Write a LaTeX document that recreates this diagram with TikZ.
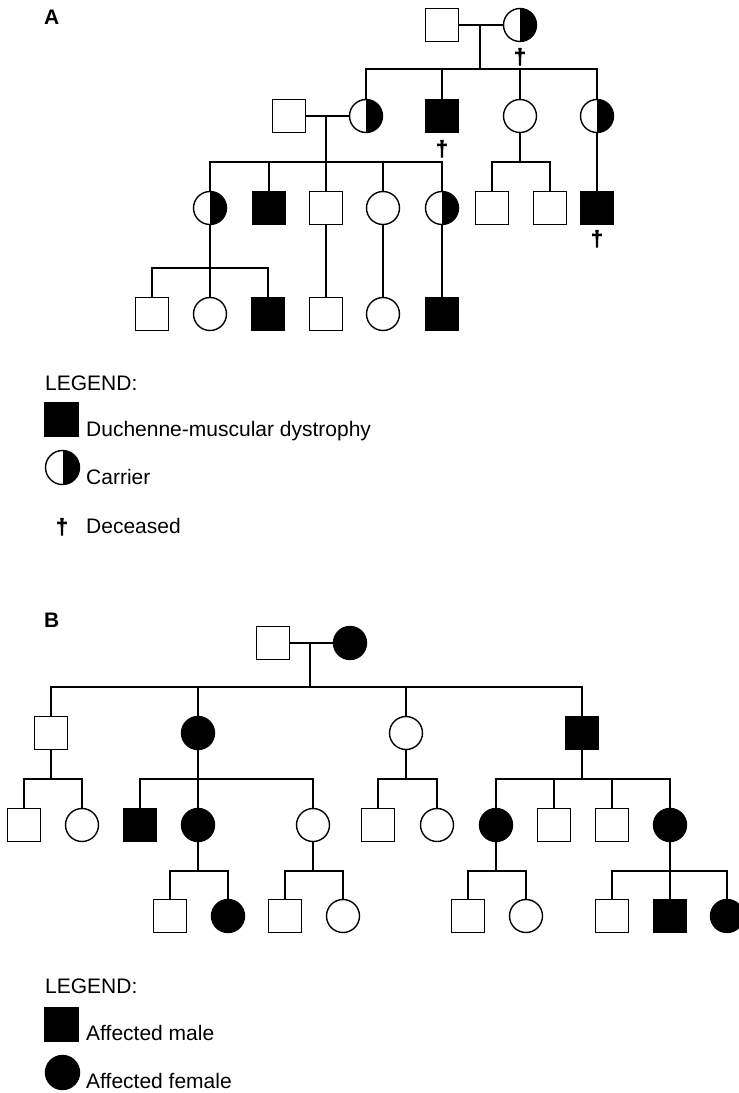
\documentclass[tikz,border=0pt]{standalone}
\usepackage{fontspec}
\setmainfont{Liberation Sans}
\newfontfamily\dagfont[FakeBold=2.5]{Liberation Sans Bold}
\begin{document}
\begin{tikzpicture}[x=1pt,y=-1pt,
  ind/.style={draw, line width=1.4pt, inner sep=0pt, minimum size=33pt, fill=white},
  male/.style={ind, rectangle},
  female/.style={ind, circle},
  aff/.style={fill=black},
  carrier/.style={female, path picture={\fill[black] (path picture bounding box.north) rectangle (path picture bounding box.south east);}},
  conn/.style={line width=2pt},
  dag/.style={font=\dagfont\fontsize{21.5}{25}\selectfont, inner sep=0pt, anchor=north},
  lbl/.style={font=\fontsize{21}{25}\selectfont, inner sep=0pt, anchor=base west},
  panel/.style={font=\fontsize{21}{25}\selectfont\bfseries, inner sep=0pt, anchor=base west}
]
\useasboundingbox (0,0) rectangle (739,1093);
\fill[white] (0,0) rectangle (739,1093);

% ---------------- Pedigree A ----------------
\node[panel] (pa) at (44,24) {A};

\node[male] (a1) at (442,25) {};
\node[carrier] (a2) at (520,25) {};

\node[male] (b1) at (289,116) {};
\node[carrier] (b2) at (366,116) {};
\node[male,aff] (b3) at (442,116) {};
\node[female] (b4) at (520,116) {};
\node[carrier] (b5) at (597,116) {};

\node[carrier] (c1) at (210,208) {};
\node[male,aff] (c2) at (269,208) {};
\node[male] (c3) at (326,208) {};
\node[female] (c4) at (383,208) {};
\node[carrier] (c5) at (442,208) {};
\node[male] (c6) at (492,208) {};
\node[male] (c7) at (550,208) {};
\node[male,aff] (c8) at (597,208) {};

\node[male] (d1) at (152,314) {};
\node[female] (d2) at (210,314) {};
\node[male,aff] (d3) at (268,314) {};
\node[male] (d4) at (326,314) {};
\node[female] (d5) at (383,314) {};
\node[male,aff] (d6) at (442,314) {};

\node[dag] (x1) at (520,48) {†};
\node[dag] (x2) at (442,140) {†};
\node[dag] (x3) at (597,230) {†};

\coordinate (ja) at (480,25);
\coordinate (sa) at (480,69);
\draw[conn] (a1.east) -- (a2.west);
\draw[conn] (ja) -- (sa);
\draw[conn] (b2.north) |- (sa) -| (b5.north);
\draw[conn] (b3.north) -- (b3.north |- sa);
\draw[conn] (b4.north) -- (b4.north |- sa);

\coordinate (jb) at (326,116);
\coordinate (sb) at (326,162);
\draw[conn] (b1.east) -- (b2.west);
\draw[conn] (jb) -- (c3.north);
\draw[conn] (c1.north) |- (sb) -| (c5.north);
\draw[conn] (c2.north) -- (c2.north |- sb);
\draw[conn] (c4.north) -- (c4.north |- sb);

\coordinate (sc) at (520,162);
\draw[conn] (b4.south) -- (sc);
\draw[conn] (c6.north) |- (sc) -| (c7.north);
\draw[conn] (b5.south) -- (c8.north);

\coordinate (sd) at (210,268);
\draw[conn] (c1.south) -- (d2.north);
\draw[conn] (d1.north) |- (sd) -| (d3.north);
\draw[conn] (c3.south) -- (d4.north);
\draw[conn] (c4.south) -- (d5.north);
\draw[conn] (c5.south) -- (d6.north);

% Legend A
\node[lbl] (la) at (45,390) {LEGEND:};
\node[male,aff,minimum size=34pt] (k1) at (61.5,419.5) {};
\node[lbl] (t1) at (86,436) {Duchenne-muscular dystrophy};
\node[carrier,minimum size=34pt] (k2) at (62.5,467.5) {};
\node[lbl] (t2) at (86,484) {Carrier};
\node[dag] (k3) at (62,518) {†};
\node[lbl] (t3) at (86,533) {Deceased};

% ---------------- Pedigree B ----------------
\node[panel] (pb) at (44,627) {B};

\node[male] (e1) at (273,643) {};
\node[female,aff] (e2) at (350,643) {};

\node[male] (f1) at (51,733) {};
\node[female,aff] (f2) at (198,733) {};
\node[female] (f3) at (406,733) {};
\node[male,aff] (f4) at (582,733) {};

\node[male] (g1) at (24,825) {};
\node[female] (g2) at (82,825) {};
\node[male,aff] (g3) at (140,825) {};
\node[female,aff] (g4) at (198,825) {};
\node[female] (g5) at (313,825) {};
\node[male] (g6) at (378,825) {};
\node[female] (g7) at (437,825) {};
\node[female,aff] (g8) at (496,825) {};
\node[male] (g9) at (554,825) {};
\node[male] (g10) at (612,825) {};
\node[female,aff] (g11) at (670,825) {};

\node[male] (h1) at (170,916) {};
\node[female,aff] (h2) at (228,916) {};
\node[male] (h3) at (285,916) {};
\node[female] (h4) at (343,916) {};
\node[male] (h5) at (468,916) {};
\node[female] (h6) at (526,916) {};
\node[male] (h7) at (612,916) {};
\node[male,aff] (h8) at (670,916) {};
\node[female,aff] (h9) at (727,916) {};

\coordinate (je) at (310,643);
\coordinate (se) at (310,687);
\draw[conn] (e1.east) -- (e2.west);
\draw[conn] (je) -- (se);
\draw[conn] (f1.north) |- (se) -| (f4.north);
\draw[conn] (f2.north) -- (f2.north |- se);
\draw[conn] (f3.north) -- (f3.north |- se);

\coordinate (sf1) at (51,779);
\draw[conn] (f1.south) -- (sf1);
\draw[conn] (g1.north) |- (sf1) -| (g2.north);

\coordinate (sf2) at (198,779);
\draw[conn] (f2.south) -- (g4.north);
\draw[conn] (g3.north) |- (sf2) -| (g5.north);

\coordinate (sf3) at (406,779);
\draw[conn] (f3.south) -- (sf3);
\draw[conn] (g6.north) |- (sf3) -| (g7.north);

\coordinate (sf4) at (582,779);
\draw[conn] (f4.south) -- (sf4);
\draw[conn] (g8.north) |- (sf4) -| (g11.north);
\draw[conn] (g9.north) -- (g9.north |- sf4);
\draw[conn] (g10.north) -- (g10.north |- sf4);

\coordinate (sg4) at (198,871);
\draw[conn] (g4.south) -- (sg4);
\draw[conn] (h1.north) |- (sg4) -| (h2.north);

\coordinate (sg5) at (313,871);
\draw[conn] (g5.south) -- (sg5);
\draw[conn] (h3.north) |- (sg5) -| (h4.north);

\coordinate (sg8) at (496,871);
\draw[conn] (g8.south) -- (sg8);
\draw[conn] (h5.north) |- (sg8) -| (h6.north);

\coordinate (sg11) at (670,871);
\draw[conn] (g11.south) -- (h8.north);
\draw[conn] (h7.north) |- (sg11) -| (h9.north);

% Legend B
\node[lbl] (lb) at (45,993) {LEGEND:};
\node[male,aff,minimum size=34pt] (k4) at (61.5,1024.5) {};
\node[lbl] (t4) at (86,1040) {Affected male};
\node[female,aff,minimum size=34pt] (k5) at (62.5,1072.5) {};
\node[lbl] (t5) at (86,1088) {Affected female};
\end{tikzpicture}
\end{document}
